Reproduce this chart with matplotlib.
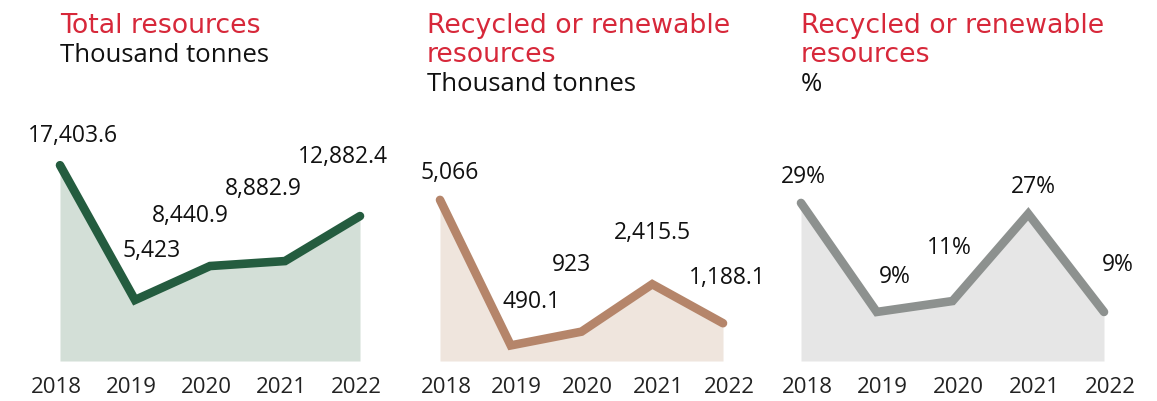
import matplotlib.pyplot as plt
from matplotlib.transforms import ScaledTranslation

years = ['2018', '2019', '2020', '2021', '2022']

total = [17403.6, 5423, 8440.9, 8882.9, 12882.4]
total_labels = ['17,403.6', '5,423', '8,440.9', '8,882.9', '12,882.4']

recycled = [5066, 490.1, 923, 2415.5, 1188.1]
recycled_labels = ['5,066', '490.1', '923', '2,415.5', '1,188.1']

share = [29, 9, 11, 27, 9]
share_labels = ['29%', '9%', '11%', '27%', '9%']

W, H = 1157, 401
fig = plt.figure(figsize=(W / 100, H / 100), dpi=100)

RED = '#d7283a'
body_font = 'Open Sans'
title_font = 'DejaVu Sans'


def px_axes(left, right, top=100, bottom=361):
    return fig.add_axes([left / W, 1 - bottom / H, (right - left) / W, (bottom - top) / H])


def panel(left, right, vals, labels, ymax, line_c, fill_c, offsets, titles, unit,
          tick_dx, title_x):
    ax = px_axes(left, right)
    x = list(range(len(vals)))
    ax.fill_between(x, 0, vals, color=fill_c, lw=0)
    ax.plot(x, vals, color=line_c, lw=6.2, solid_capstyle='round',
            solid_joinstyle='miter', clip_on=False)
    ax.set_xlim(0, len(vals) - 1)
    ax.set_ylim(0, ymax)
    for i, (v, lab) in enumerate(zip(vals, labels)):
        ax.annotate(lab, (i, v), xytext=offsets[i], textcoords='offset pixels',
                    ha='center', va='baseline', fontsize=16.5, family=body_font,
                    color='#111111')
    ax.set_xticks(x)
    ax.set_xticklabels(years, fontsize=16, family=body_font, color='#222222')
    ax.tick_params(axis='x', length=0, pad=23)
    shift = ScaledTranslation(tick_dx / 100, 0, fig.dpi_scale_trans)
    for t in ax.get_xticklabels():
        t.set_va('baseline')
        t.set_transform(t.get_transform() + shift)
    ax.set_yticks([])
    for s in ax.spines.values():
        s.set_visible(False)
    ax.patch.set_alpha(0)

    y = 33
    for t in titles:
        fig.text(title_x / W, 1 - y / H, t, color=RED, fontsize=19.3, family=title_font,
                 va='baseline', ha='left')
        y += 29
    fig.text(title_x / W, 1 - y / H, unit, color='#111111', fontsize=18.5,
             family=body_font, va='baseline', ha='left')
    return ax


panel(60, 360, total, total_labels, 261 / 0.01125, '#245c3f', '#d3dfd7',
      [(13, 23), (17, 43), (-20, 44), (-22, 66), (-17, 53)],
      ['Total resources'], 'Thousand tonnes', -4, 60)

panel(440, 723, recycled, recycled_labels, 261 / 0.0318, '#b5856a', '#efe5dd',
      [(10, 21), (21, 37), (-10, 61), (0, 45), (4, 39)],
      ['Recycled or renewable', 'resources'], 'Thousand tonnes', 6, 427)

panel(801, 1104, share, share_labels, 261 / 5.45, '#8d918f', '#e6e6e6',
      [(2, 20), (18, 29), (-3, 47), (5, 21), (14, 41)],
      ['Recycled or renewable', 'resources'], '%', 6, 801)

fig.savefig('out.png', dpi=100)
